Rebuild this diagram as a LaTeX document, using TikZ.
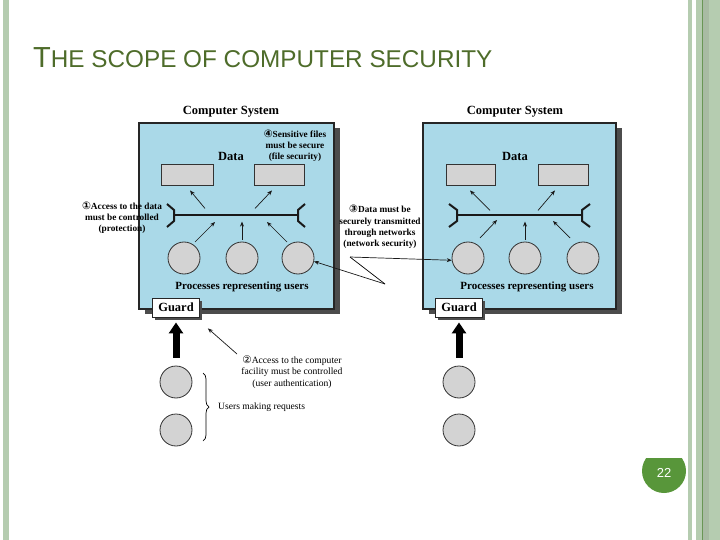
\documentclass[tikz,border=0pt]{standalone}
\usepackage{fontspec}
\setmainfont{Liberation Serif}
\newfontfamily\sansf{Liberation Sans}
\newfontfamily\symf{DejaVu Sans}
\usetikzlibrary{arrows.meta,shadows,decorations.pathreplacing}
\definecolor{sysblue}{RGB}{170,217,232}
\definecolor{boxgray}{RGB}{211,211,211}
\definecolor{stripe}{RGB}{181,204,176}
\definecolor{stripedark}{RGB}{105,150,85}
\definecolor{titlegreen}{RGB}{78,108,42}
\definecolor{pagegreen}{RGB}{88,150,58}
\newcommand{\cnum}[1]{{\symf\fontsize{10.5}{9}\selectfont #1}}
\tikzset{
  sysbox/.style={draw=black!85, line width=1.4pt, fill=sysblue, minimum height=186pt,
     drop shadow={shadow xshift=6pt, shadow yshift=-5pt, fill=black!70, opacity=1}},
  databox/.style={draw=black!80, line width=0.9pt, fill=boxgray, minimum width=50pt, minimum height=21pt},
  proc/.style={circle, draw=black!80, line width=0.8pt, fill=boxgray, minimum size=32pt, inner sep=0pt},
  guardbox/.style={draw=black!85, line width=0.9pt, fill=white, minimum width=47pt, minimum height=19pt,
     inner sep=0pt, font=\bfseries\fontsize{12.5}{13}\selectfont,
     drop shadow={shadow xshift=2.5pt, shadow yshift=-2.5pt, fill=black!70, opacity=1}},
  syslabel/.style={font=\bfseries\fontsize{12.5}{13}\selectfont},
  proclabel/.style={font=\bfseries\fontsize{11}{12}\selectfont},
  note/.style={align=center, inner sep=0pt, font=\fontsize{9.6}{11.2}\selectfont},
  bnote/.style={note, font=\bfseries\fontsize{9.3}{11.2}\selectfont},
  arr/.style={-{Stealth[length=5pt,width=4pt]}, line width=0.7pt, draw=black!90},
  bar/.style={line width=2pt, draw=black!90},
  bigarr/.style={line width=7pt, -{Triangle[width=14pt,length=11pt]}},
}
\begin{document}
\begin{tikzpicture}[x=1pt,y=-1pt]
\useasboundingbox (0,0) rectangle (720,540);
% slide frame stripes
\fill[stripe] (3,0) rectangle (9,540);
\fill[stripe] (688,0) rectangle (692,540);
\fill[stripe] (696,0) rectangle (702,540);
\fill[stripedark] (702,0) rectangle (703.2,540);
\fill[stripe!90!black!95] (703.2,0) rectangle (709,540);
\fill[stripe] (709,0) rectangle (720,540);
% title
\node[anchor=base west, inner sep=0pt, text=titlegreen, font=\sansf] (title) at (33,68)
  {{\fontsize{29}{30}\selectfont T}{\fontsize{24.3}{25}\selectfont HE SCOPE OF COMPUTER SECURITY}};
% page number
\begin{scope}
  \clip (620,458) rectangle (700,500);
  \fill[pagegreen] (664,471) circle (22);
\end{scope}
\node[text=white, font=\sansf\fontsize{13}{13}\selectfont] (pnum) at (664,472.5) {22};

% ---------- left computer system ----------
\node[sysbox, minimum width=195pt] (sysL) at (236.5,216) {};
\node[syslabel] (csL) at (231,112) {Computer System};
\node[syslabel] (dataL) at (231,156) {Data};
\node[databox, minimum width=52pt] (dL1) at (187,175) {};
\node[databox] (dL2) at (279,175) {};
\coordinate (bLa) at (174,215);
\coordinate (bLb) at (298,215);
\draw[bar] (bLa) -- (bLb);
\draw[bar] ([shift={(-7,-11)}]bLa) -- ([shift={(0,-5)}]bLa) -- ([shift={(0,6)}]bLa) -- ([shift={(-7,12)}]bLa);
\draw[bar] ([shift={(7,-11)}]bLb) -- ([shift={(0,-5)}]bLb) -- ([shift={(0,6)}]bLb) -- ([shift={(7,12)}]bLb);
\node[proc] (pL1) at (184,258) {};
\node[proc] (pL2) at (242,258) {};
\node[proc] (pL3) at (298,258) {};
\draw[arr] ([shift={(11,-16)}]pL1.center) -- ([shift={(31,-36)}]pL1.center);
\draw[arr] ([shift={(0,-2)}]pL2.north) -- ([shift={(0,-20)}]pL2.north);
\draw[arr] ([shift={(-11,-16)}]pL3.center) -- ([shift={(-31,-36)}]pL3.center);
\draw[arr] ([shift={(18,22.5)}]dL1.south) -- ([shift={(3,4.5)}]dL1.south);
\draw[arr] ([shift={(-24,22.5)}]dL2.south) -- ([shift={(-7,4.5)}]dL2.south);
\node[proclabel] (prL) at (242,287) {Processes representing users};
\node[guardbox] (gL) at (176,307.5) {Guard};

% ---------- right computer system ----------
\node[sysbox, minimum width=193pt] (sysR) at (519.5,216) {};
\node[syslabel] (csR) at (515,112) {Computer System};
\node[syslabel] (dataR) at (515,156) {Data};
\node[databox, minimum width=49pt] (dR1) at (470.5,175) {};
\node[databox] (dR2) at (563,175) {};
\coordinate (bRa) at (457,215);
\coordinate (bRb) at (582,215);
\draw[bar] (bRa) -- (bRb);
\draw[bar] ([shift={(-8,-11)}]bRa) -- ([shift={(0,-5)}]bRa) -- ([shift={(0,6)}]bRa) -- ([shift={(-8,12)}]bRa);
\draw[bar] ([shift={(8,-11)}]bRb) -- ([shift={(0,-5)}]bRb) -- ([shift={(0,6)}]bRb) -- ([shift={(8,12)}]bRb);
\node[proc] (pR1) at (468,258) {};
\node[proc] (pR2) at (525,258) {};
\node[proc] (pR3) at (583,258) {};
\draw[arr] ([shift={(12,-20)}]pR1.center) -- ([shift={(29,-38)}]pR1.center);
\draw[arr] ([shift={(0,-2)}]pR2.north) -- ([shift={(0,-20)}]pR2.north);
\draw[arr] ([shift={(-13,-20)}]pR3.center) -- ([shift={(-30,-37)}]pR3.center);
\draw[arr] ([shift={(19.5,24.5)}]dR1.south) -- ([shift={(-0.5,4.5)}]dR1.south);
\draw[arr] ([shift={(-25,24.5)}]dR2.south) -- ([shift={(-8,4.5)}]dR2.south);
\node[proclabel] (prR) at (527,287) {Processes representing users};
\node[guardbox] (gR) at (459,307.5) {Guard};

% ---------- users ----------
\node[proc] (uL1) at (176,382) {};
\node[proc] (uL2) at (176,430) {};
\node[proc] (uR1) at (459,382) {};
\node[proc] (uR2) at (459,430) {};
\draw[bigarr] ([shift={(0,-8)}]uL1.north) -- ([shift={(0,5)}]gL.south);
\draw[bigarr] ([shift={(0,-8)}]uR1.north) -- ([shift={(0,5)}]gR.south);
\coordinate (brt) at (203,373);
\coordinate (brb) at (203,441);
\draw[line width=0.7pt, decorate, decoration={brace, amplitude=6pt}] (brt) -- (brb);
\node[note, anchor=west] (users) at (218,407.5) {Users making requests};

% ---------- annotations ----------
\node[bnote] (n4) at (295,146) {\cnum{④}Sensitive files\\must be secure\\(file security)};
\node[bnote] (n1) at (122,218) {\cnum{①}Access to the data\\must be controlled\\(protection)};
\node[bnote] (n3) at (380,227) {\cnum{③}Data must be\\securely transmitted\\through networks\\(network security)};
\node[note] (n2) at (292,372) {\cnum{②}Access to the computer\\facility must be controlled\\(user authentication)};
\coordinate (c3a) at (350,257);
\coordinate (c3b) at (385,284);
\draw[line width=0.7pt] (c3a) -- (c3b);
\draw[arr] (c3b) -- (pL3.-12);
\draw[arr] (c3a) -- (pR1.188);
\coordinate (c2) at (237,354);
\draw[arr] (c2) -- ([shift={(8,11)}]gL.south east);
\end{tikzpicture}
\end{document}
